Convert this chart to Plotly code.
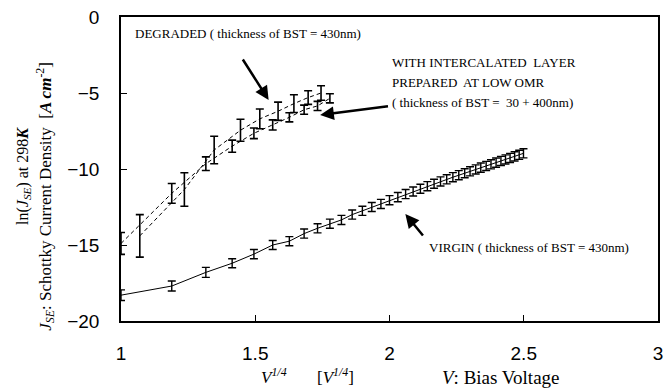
import plotly.graph_objects as go

# ---------------- data ----------------
# VIRGIN (thickness of BST = 430nm)
virgin_x = [1.000, 1.189, 1.316, 1.414, 1.495, 1.565, 1.627, 1.682, 1.732, 1.778,
            1.821, 1.861, 1.899, 1.934, 1.968, 2.000, 2.031, 2.060, 2.088, 2.115,
            2.141, 2.166, 2.190, 2.213, 2.236, 2.258, 2.280, 2.300, 2.321, 2.340,
            2.360, 2.378, 2.397, 2.415, 2.432, 2.449, 2.466, 2.483, 2.499]
virgin_y = [-18.3, -17.7, -16.8, -16.2, -15.6, -15.0, -14.75, -14.25, -13.9, -13.6,
            -13.35, -13.0, -12.75, -12.5, -12.3, -12.05, -11.85, -11.65, -11.48, -11.3,
            -11.13, -10.97, -10.82, -10.68, -10.54, -10.41, -10.28, -10.15, -10.03, -9.91,
            -9.8, -9.69, -9.58, -9.47, -9.37, -9.27, -9.17, -9.07, -8.97]
virgin_err = [0.35, 0.33, 0.33, 0.3, 0.3, 0.3, 0.3, 0.3, 0.3, 0.3,
              0.3, 0.3, 0.3, 0.3, 0.3, 0.3, 0.3, 0.3, 0.3, 0.3,
              0.3, 0.3, 0.3, 0.3, 0.3, 0.3, 0.3, 0.3, 0.3, 0.3,
              0.3, 0.3, 0.3, 0.3, 0.3, 0.3, 0.3, 0.3, 0.3]

# WITH INTERCALATED LAYER (lower dashed series)
inter_x = [1.000, 1.189, 1.316, 1.414, 1.495, 1.565, 1.627, 1.682, 1.732, 1.778]
inter_y = [-14.9, -11.6, -9.65, -8.5, -7.65, -7.1, -6.6, -6.1, -5.85, -5.35]
inter_err = [0.72, 0.65, 0.45, 0.4, 0.35, 0.33, 0.3, 0.3, 0.3, 0.3]

# DEGRADED (upper dashed series)
degr_x = [1.070, 1.236, 1.347, 1.445, 1.517, 1.585, 1.644, 1.697, 1.745]
degr_y = [-14.4, -11.35, -8.75, -7.45, -6.7, -6.2, -5.7, -5.3, -5.0]
degr_err = [1.4, 1.1, 0.9, 0.72, 0.65, 0.6, 0.58, 0.45, 0.48]

x_ticks = [1, 1.5, 2, 2.5, 3]
x_tick_labels = ["1", "1.5", "2", "2.5", "3"]
y_ticks = [0, -5, -10, -15, -20]
y_tick_labels = ["0", "\u22125", "\u221210", "\u221215", "\u221220"]

# ---------------- layout helpers (pixel -> coords) ----------------
W, H = 668, 389
L, R, T, B = 121, 5, 17, 68
PW, PH = W - L - R, H - T - B


def dx(px):
    return 1 + (px - L) / PW * 2.0


def dy(py):
    return -(py - T) / PH * 20.0


def paper_x(px):
    return (px - L) / PW


def paper_y(py):
    return (H - B - py) / PH


SERIF = "Liberation Serif, Times New Roman, serif"
SANS = "Liberation Sans, Arial, sans-serif"

fig = go.Figure()

fig.add_trace(go.Scatter(
    x=degr_x, y=degr_y, mode="lines",
    line=dict(color="black", width=1, dash="4px,3px"),
    error_y=dict(type="data", array=degr_err, color="black", thickness=1.6, width=4),
    showlegend=False))
fig.add_trace(go.Scatter(
    x=inter_x, y=inter_y, mode="lines",
    line=dict(color="black", width=1, dash="4px,3px"),
    error_y=dict(type="data", array=inter_err, color="black", thickness=1.6, width=4),
    showlegend=False))
fig.add_trace(go.Scatter(
    x=virgin_x, y=virgin_y, mode="lines",
    line=dict(color="black", width=1),
    error_y=dict(type="data", array=virgin_err, color="black", thickness=1.4, width=4),
    showlegend=False))

annotations = []

# text labels
annotations.append(dict(
    x=dx(133), y=dy(33), xref="x", yref="y", xanchor="left", yanchor="middle",
    text="DEGRADED ( thickness of BST = 430nm)", showarrow=False,
    font=dict(family=SERIF, size=13, color="black")))
for txt, py in [("WITH INTERCALATED  LAYER", 62),
                ("PREPARED  AT LOW OMR", 82),
                ("( thickness of BST =  30 + 400nm)", 102)]:
    annotations.append(dict(
        x=dx(393), y=dy(py), xref="x", yref="y", xanchor="left", yanchor="middle",
        text=txt, showarrow=False,
        font=dict(family=SERIF, size=13, color="black")))
annotations.append(dict(
    x=dx(430), y=dy(247), xref="x", yref="y", xanchor="left", yanchor="middle",
    text="VIRGIN ( thickness of BST = 430nm)", showarrow=False,
    font=dict(family=SERIF, size=13, color="black")))

# arrows
for (hx, hy, tx, ty) in [(270, 100, 243, 58), (322, 115, 392, 106), (408, 214, 427, 237)]:
    annotations.append(dict(
        x=dx(hx), y=dy(hy), ax=dx(tx), ay=dy(ty), xref="x", yref="y",
        axref="x", ayref="y", text="", showarrow=True,
        arrowhead=2, arrowsize=1.1, arrowwidth=2.5, arrowcolor="black"))

# y axis title (two rotated lines)
annotations.append(dict(
    x=paper_x(22), y=paper_y(176), xref="paper", yref="paper",
    xanchor="center", yanchor="middle", textangle=-90, showarrow=False,
    text="ln(<i>J</i><sub><i>SE</i></sub>) at 298<i><b>K</b></i>",
    font=dict(family=SERIF, size=16, color="black")))
annotations.append(dict(
    x=paper_x(44), y=paper_y(196), xref="paper", yref="paper",
    xanchor="center", yanchor="middle", textangle=-90, showarrow=False,
    text="<i>J</i><sub><i>SE</i></sub>: Schottky Current Density  [<i><b>A cm</b></i><sup>-2</sup>]",
    font=dict(family=SERIF, size=17, color="black")))

# x axis title pieces
annotations.append(dict(
    x=paper_x(275), y=paper_y(376), xref="paper", yref="paper",
    xanchor="center", yanchor="middle", showarrow=False,
    text="<i>V</i><sup><i>1/4</i></sup>",
    font=dict(family=SERIF, size=17, color="black")))
annotations.append(dict(
    x=paper_x(338), y=paper_y(376), xref="paper", yref="paper",
    xanchor="center", yanchor="middle", showarrow=False,
    text="[<i>V</i><sup><i>1/4</i></sup>]",
    font=dict(family=SERIF, size=17, color="black")))
annotations.append(dict(
    x=paper_x(505), y=paper_y(377), xref="paper", yref="paper",
    xanchor="center", yanchor="middle", showarrow=False,
    text="<i>V</i>: Bias Voltage",
    font=dict(family=SERIF, size=19, color="black")))

fig.update_layout(
    width=W, height=H,
    margin=dict(l=L, r=R, t=T, b=B),
    paper_bgcolor="white", plot_bgcolor="white",
    annotations=annotations,
    showlegend=False,
)
fig.update_xaxes(
    range=[1, 3], tickvals=x_ticks, ticktext=x_tick_labels,
    ticks="inside", ticklen=6, tickcolor="black", tickwidth=1,
    showline=True, linecolor="black", linewidth=1.5, mirror=True,
    showgrid=False, zeroline=False, ticklabelstandoff=14,
    tickfont=dict(family=SANS, size=19, color="black"))
fig.update_yaxes(
    range=[-20, 0], tickvals=y_ticks, ticktext=y_tick_labels,
    ticks="inside", ticklen=6, tickcolor="black", tickwidth=1,
    showline=True, linecolor="black", linewidth=1.5, mirror=True,
    showgrid=False, zeroline=False, ticklabelstandoff=16,
    tickfont=dict(family=SANS, size=19, color="black"))

fig.write_html(
    "out.html",
    config={"displayModeBar": False},
    post_script="document.body.style.margin='0';document.body.style.overflow='hidden';",
)
